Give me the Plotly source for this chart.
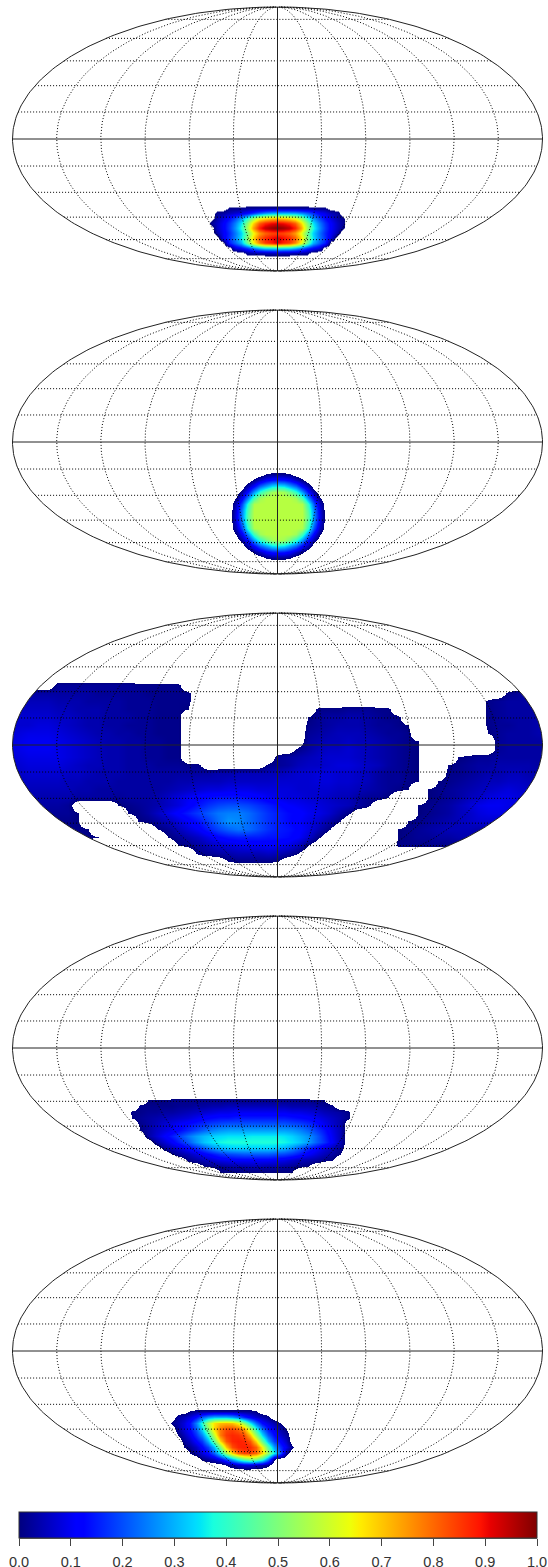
# Five Mollweide sky maps with one shared jet colour bar

import numpy as np
import plotly.graph_objects as go

W = 548
H = 1567
centres_y = [139, 442, 745, 1048, 1351]
centre_x = 277.5
a = 265
b = 132
pad_x = 270.5
pad_y = 137

o = -4  # outside the region, values below are in hundredths

panel1_rows = [
    [o] * 26,
    [o] * 4 + [1, 1, 1, 2, 2, 2, 2, 2, 2, 2, 2, 2, 2, 2, 1, 1, 1],
    [o] * 2 + [2, 3, 5, 7, 9, 12, 17, 22, 26, 29, 30, 30, 30, 29, 26, 22, 17, 12, 9, 5, 3],
    [o] * 2 + [4, 8, 13, 19, 27, 38, 52, 62, 66, 69, 70, 69, 66, 62, 52, 38, 27, 19, 13, 8, 4, 1],
    [o] * 1 + [2, 6, 11, 17, 25, 35, 51, 68, 81, 87, 90, 92, 90, 87, 81, 68, 51, 35, 25, 17, 11, 6, 2],
    [o] * 2 + [6, 11, 18, 27, 38, 55, 74, 88, 95, 98, 100, 98, 95, 88, 74, 55, 38, 27, 18, 11, 6, 1],
    [o] * 2 + [4, 10, 16, 24, 33, 47, 63, 74, 80, 83, 84, 83, 80, 74, 63, 47, 33, 24, 16, 10, 4],
    [o] * 3 + [10, 17, 25, 35, 51, 68, 81, 87, 90, 93, 90, 87, 81, 68, 51, 35, 25, 17, 8],
    [o] * 4 + [15, 22, 30, 47, 64, 77, 85, 88, 92, 88, 85, 77, 64, 47, 30, 22, 15],
    [o] * 5 + [8, 12, 17, 24, 30, 34, 35, 36, 35, 34, 30, 24, 17, 12, 8],
    [o] * 7 + [2, 3, 3, 4, 4, 5, 4, 4, 3, 3, 2],
    [o] * 26,
]

panel2_rows = [
    [o] * 19,
    [o] * 7 + [0, 1, 1, 1, 0],
    [o] * 5 + [1, 6, 11, 14, 15, 14, 11, 6, 1],
    [o] * 4 + [4, 12, 22, 28, 34, 36, 34, 28, 22, 12, 4],
    [o] * 3 + [3, 14, 28, 40, 48, 54, 56, 54, 48, 40, 28, 14, 3],
    [o] * 2 + [0, 11, 26, 43, 54, 57, 57, 57, 57, 57, 54, 43, 26, 11, 0],
    [o] * 2 + [5, 20, 40, 56, 57, 57, 57, 57, 57, 57, 57, 56, 40, 20, 5],
    [o] * 2 + [8, 25, 44, 57, 57, 57, 57, 57, 57, 57, 57, 57, 44, 25, 8],
    [o] * 2 + [9, 26, 46, 57, 57, 57, 57, 57, 57, 57, 57, 57, 46, 26, 9],
    [o] * 2 + [8, 25, 44, 57, 57, 57, 57, 57, 57, 57, 57, 57, 44, 25, 8],
    [o] * 2 + [5, 20, 40, 56, 57, 57, 57, 57, 57, 57, 57, 56, 40, 20, 5],
    [o] * 2 + [0, 11, 26, 43, 54, 57, 57, 57, 57, 57, 54, 43, 26, 11, 0],
    [o] * 3 + [3, 14, 28, 40, 48, 54, 56, 54, 48, 40, 28, 14, 3],
    [o] * 4 + [4, 12, 22, 28, 34, 36, 34, 28, 22, 12, 4],
    [o] * 5 + [1, 6, 11, 14, 15, 14, 11, 6, 1],
    [o] * 7 + [0, 1, 1, 1, 0],
    [o] * 19,
]

panel3_rows = [
    [o] * 55,
    [o] * 5 + [2, 2, 2, 2, 2, 2, 2, 2, 1, 1, 1, 1, 1],
    [o] * 2 + [3, 3, 3, 3, 3, 3, 3, 2, 2, 2, 2, 2, 1, 1, 1, 1, 1] + [o] * 31 + [1, 2, 3],
    [o] * 1 + [4, 5, 5, 5, 4, 4, 4, 3, 3, 3, 3, 2, 2, 2, 1, 1, 1, 1] + [o] * 29 + [1, 2, 3, 3, 3, 3],
    [5, 6, 6, 6, 6, 5, 5, 4, 4, 4, 3, 3, 2, 2, 2, 1, 1, 1, 0] + [o] * 12 + [1, 1, 1, 2, 2, 2, 1, 1] + [o] * 9 + [1, 2, 3, 3, 3, 3, 3],
    [6, 7, 7, 7, 7, 6, 6, 5, 4, 4, 3, 3, 3, 2, 2, 1, 1, 1] + [o] * 12 + [0, 2, 3, 3, 4, 4, 3, 2, 1, 1] + [o] * 8 + [1, 2, 3, 3, 3, 4, 4],
    [6, 7, 7, 8, 8, 7, 6, 5, 4, 4, 3, 3, 2, 2, 2, 1, 1, 1] + [o] * 12 + [1, 2, 3, 4, 4, 4, 3, 2, 2, 1, 0] + [o] * 7 + [1, 2, 2, 3, 3, 4, 4],
    [7, 8, 9, 9, 9, 8, 7, 6, 5, 4, 4, 3, 3, 2, 2, 1, 1, 1] + [o] * 12 + [2, 3, 4, 5, 5, 5, 4, 3, 2, 2, 1] + [o] * 7 + [0, 2, 3, 3, 3, 4, 4],
    [8, 9, 10, 10, 10, 9, 8, 7, 6, 5, 4, 4, 3, 3, 2, 2, 1, 1] + [o] * 12 + [3, 4, 5, 5, 6, 5, 5, 4, 3, 2, 1, 0] + [o] * 7 + [2, 3, 3, 3, 3, 4],
    [8, 9, 10, 10, 10, 9, 8, 7, 6, 5, 4, 4, 3, 3, 2, 2, 1, 1] + [o] * 11 + [1, 3, 5, 6, 6, 7, 6, 5, 4, 3, 2, 1, 0] + [o] * 7 + [2, 3, 3, 3, 3, 3],
    [7, 8, 9, 9, 9, 9, 8, 7, 6, 5, 4, 4, 3, 3, 2, 2, 1, 1] + [o] * 9 + [2, 3, 4, 5, 6, 7, 7, 7, 6, 5, 4, 3, 2, 1, 0] + [o] * 3 + [0, 1, 2, 2, 3, 3, 3, 3, 3, 3],
    [6, 7, 8, 8, 8, 8, 7, 6, 5, 5, 4, 4, 3, 3, 3, 2, 2, 2, 1, 1] + [o] * 6 + [1, 2, 3, 5, 6, 6, 7, 8, 8, 7, 6, 5, 3, 2, 1, 0] + [o] * 2 + [0, 1, 2, 3, 3, 4, 4, 4, 4, 3, 3],
    [5, 6, 7, 7, 7, 7, 6, 6, 5, 4, 4, 4, 3, 3, 3, 3, 3, 3, 3, 3, 3, 4, 4, 5, 5, 5, 5, 5, 6, 7, 7, 8, 8, 7, 7, 6, 5, 3, 2, 2, 1, 0] + [o] * 2 + [1, 1, 2, 3, 4, 4, 5, 5, 4, 4, 3],
    [4, 5, 6, 6, 6, 6, 5, 5, 4, 4, 4, 3, 3, 3, 3, 3, 3, 4, 4, 5, 5, 5, 6, 6, 6, 6, 6, 7, 7, 7, 7, 8, 8, 7, 7, 6, 5, 3, 2, 2, 1, 0] + [o] * 1 + [0, 1, 2, 3, 4, 5, 5, 6, 6, 5, 4, 4],
    [4, 4, 5, 5, 5, 5, 5, 4, 4, 3, 3, 3, 3, 3, 3, 3, 4, 5, 6, 7, 8, 8, 9, 9, 9, 8, 8, 8, 8, 7, 7, 7, 7, 6, 6, 5, 4, 3, 2, 1, 0] + [o] * 1 + [0, 1, 2, 3, 4, 5, 6, 7, 8, 7, 6, 5, 4],
    [3, 3, 4, 4, 4, 4, 4, 3, 3, 3, 3, 2, 3, 3, 3, 4, 6, 8, 10, 12, 13, 14, 14, 14, 13, 12, 10, 9, 8, 8, 7, 7, 6, 5, 5, 3, 2, 2, 0] + [o] * 3 + [0, 1, 2, 3, 5, 6, 8, 9, 9, 8, 7, 6, 5],
    [3, 3, 3, 3, 3, 3, 2] + [o] * 4 + [0, 1, 2, 3, 4, 6, 8, 11, 14, 17, 19, 20, 20, 19, 17, 15, 13, 11, 10, 9, 8, 7, 6, 5, 3, 1] + [o] * 4 + [0, 1, 2, 3, 5, 7, 9, 10, 10, 9, 8, 7, 5, 4],
    [2, 2, 2, 2, 2, 2, 2, 0] + [o] * 4 + [0, 1, 3, 6, 9, 12, 15, 18, 21, 24, 25, 25, 23, 20, 17, 15, 13, 12, 10, 9, 7, 4, 1] + [o] * 6 + [0, 1, 2, 3, 5, 6, 8, 9, 9, 8, 6, 5, 4, 3],
    [1, 1, 1, 1, 1, 1, 1, 0] + [o] * 5 + [0, 1, 3, 5, 8, 11, 14, 18, 23, 27, 26, 23, 20, 17, 15, 13, 11, 9, 7, 4, 1] + [o] * 6 + [0, 1, 2, 3, 4, 5, 6, 7, 7, 6, 5, 4, 3, 2, 2],
    [1, 1, 1, 1, 1, 1, 1, 1, 0] + [o] * 6 + [0, 2, 5, 8, 11, 15, 19, 22, 24, 23, 20, 17, 15, 14, 12, 9, 5, 1] + [o] * 6 + [0, 1, 2, 3, 4, 5, 5, 5, 4, 4, 3, 3, 2, 2, 2, 2],
    [1, 1, 1, 1, 1, 1, 1, 1, 1, 0] + [o] * 6 + [0, 2, 4, 6, 9, 12, 14, 15, 15, 15, 14, 14, 13, 11, 7, 1] + [o] * 7 + [0, 1, 2, 2, 3, 3, 4, 4, 3, 3, 2, 2, 2, 2, 2, 2],
    [o] * 17 + [0, 1, 3, 5, 7, 8, 9, 10, 10, 11, 10, 9, 6, 0] + [o] * 8 + [1, 1, 1, 1, 1, 1, 1, 1],
    [o] * 19 + [1, 2, 3, 4, 5, 5, 5, 6, 5, 3, 0],
    [o] * 22 + [0, 1, 1, 1, 1, 0],
    [o] * 55,
]

panel4_rows = [
    [o] * 30,
    [o] * 3 + [0, 0, 0, 1, 1, 1, 1, 1, 1, 1, 1, 1, 1, 1, 1, 1, 1, 1, 1, 1, 1, 0, 0],
    [o] * 2 + [1, 1, 1, 1, 1, 2, 2, 3, 3, 4, 4, 5, 5, 5, 5, 5, 5, 5, 5, 4, 4, 4, 3, 2, 1],
    [o] * 1 + [1, 1, 2, 2, 3, 3, 4, 5, 6, 7, 8, 9, 9, 10, 10, 10, 10, 10, 10, 10, 9, 9, 8, 7, 5, 4, 3, 1],
    [o] * 1 + [0, 2, 3, 4, 5, 6, 7, 8, 10, 12, 13, 14, 14, 15, 15, 15, 15, 15, 15, 15, 14, 13, 12, 10, 8, 6, 4, 1],
    [o] * 2 + [1, 3, 5, 7, 9, 11, 13, 15, 17, 19, 20, 21, 21, 21, 21, 21, 21, 21, 21, 20, 19, 17, 14, 10, 7, 4],
    [o] * 2 + [0, 3, 6, 8, 10, 13, 16, 19, 22, 25, 27, 28, 28, 28, 28, 28, 28, 28, 28, 27, 25, 22, 18, 14, 9, 5],
    [o] * 3 + [3, 7, 11, 15, 19, 24, 28, 31, 33, 34, 35, 35, 35, 36, 36, 36, 36, 35, 33, 30, 27, 22, 16, 10, 5],
    [o] * 4 + [3, 7, 11, 16, 21, 27, 32, 35, 37, 38, 38, 38, 38, 38, 38, 38, 37, 35, 32, 28, 22, 17, 11, 5],
    [o] * 5 + [2, 5, 8, 12, 16, 21, 26, 30, 32, 33, 33, 33, 33, 33, 32, 30, 26, 21, 16, 12, 8, 5, 2],
    [o] * 6 + [0, 3, 5, 8, 11, 14, 17, 19, 20, 21, 21, 21, 21, 20, 19, 17, 14, 11, 8, 5, 3, 0],
    [o] * 8 + [1, 3, 5, 7, 9, 10, 11, 11, 11, 11, 11, 10, 9, 7, 5, 4, 3, 1, 0],
    [o] * 10 + [0, 1, 2, 3, 4, 4, 5, 5, 4, 4, 3, 2, 1, 0],
    [o] * 12 + [0, 0, 0, 0, 0, 0, 0, 0, 0, 0],
    [o] * 30,
]

panel5_rows = [
    [o] * 23,
    [o] * 4 + [0, 1, 1, 1, 1, 1, 1, 1, 1, 1, 1, 0],
    [o] * 2 + [3, 5, 8, 13, 21, 27, 30, 30, 30, 28, 23, 16, 11, 7, 4, 1],
    [o] * 1 + [1, 4, 8, 14, 25, 39, 56, 67, 71, 72, 71, 65, 52, 36, 23, 13, 8, 4, 0],
    [o] * 2 + [3, 8, 13, 21, 34, 51, 68, 78, 83, 84, 81, 75, 57, 39, 24, 14, 9, 4, 0],
    [o] * 2 + [0, 5, 10, 17, 26, 40, 59, 78, 85, 87, 86, 83, 71, 52, 34, 21, 13, 7, 3],
    [o] * 3 + [2, 6, 12, 18, 30, 47, 68, 82, 87, 88, 87, 82, 68, 47, 30, 18, 12, 6],
    [o] * 3 + [0, 2, 6, 12, 19, 31, 49, 70, 83, 87, 88, 87, 81, 65, 45, 28, 17, 10, 1],
    [o] * 4 + [0, 3, 8, 13, 22, 36, 53, 69, 80, 84, 84, 80, 69, 53, 36, 22, 3],
    [o] * 6 + [1, 3, 6, 12, 20, 30, 40, 48, 52, 50, 42, 25, 1],
    [o] * 10 + [0, 3, 6, 8, 8, 6, 4, 1],
    [o] * 23,
]

# first column, first row and cell size of each grid, in page pixels
grid_specs = [
    (panel1_rows, 205, 203, 6, 5),
    (panel2_rows, 224, 468, 6, 6),
    (panel3_rows, 8, 677, 10, 8),
    (panel4_rows, 124, 1094, 8, 6),
    (panel5_rows, 166, 1405, 6, 6),
]

jet_stops = [
    (0.0, (0, 0, 127)),
    (0.11, (0, 0, 255)),
    (0.125, (0, 0, 255)),
    (0.34, (0, 219, 255)),
    (0.35, (0, 230, 247)),
    (0.375, (25, 255, 222)),
    (0.64, (239, 255, 8)),
    (0.66, (255, 236, 0)),
    (0.89, (255, 19, 0)),
    (0.91, (232, 0, 0)),
    (1.0, (127, 0, 0)),
]
bar_ticks = [0.0, 0.1, 0.2, 0.3, 0.4, 0.5, 0.6, 0.7, 0.8, 0.9, 1.0]

parallels = [-75, -60, -45, -30, -15, 15, 30, 45, 60, 75]
meridians = [-150, -120, -90, -60, -30, 30, 60, 90, 120, 150]


def rgb(c):
    return "rgb(%d,%d,%d)" % c


jet = [[p, rgb(c)] for p, c in jet_stops]

# below zero is white, so the region edge follows the smoothed zero line
z_low = -0.05
heat_scale = [[0, "white"], [(0 - z_low) / (1 - z_low) - 0.0001, "white"]]
for p, c in jet_stops:
    heat_scale.append([(p - z_low) / (1 - z_low), rgb(c)])


def theta_of(lat_deg):
    phi = np.radians(lat_deg)
    th = phi.copy()
    for _ in range(60):
        d = 2 * th + np.sin(2 * th) - np.pi * np.sin(phi)
        th = th - d / (2 + 2 * np.cos(2 * th) + 1e-9)
    return th


def graticule():
    xs = []
    ys = []
    lat = np.linspace(-89.9, 89.9, 181)
    th = theta_of(lat)
    for lon in meridians:
        xs += list(a * lon / 180 * np.cos(th)) + [None]
        ys += list(-b * np.sin(th)) + [None]
    for p in parallels:
        t = theta_of(np.array([float(p)]))[0]
        half = a * np.cos(t)
        xs += [-half, half, None]
        ys += [-b * np.sin(t), -b * np.sin(t), None]
    return xs, ys


grid_x, grid_y = graticule()
t = np.linspace(0, 2 * np.pi, 361)
frame_x = a * np.cos(t)
frame_y = b * np.sin(t)
# white outside the ellipse: outer box one way round, ellipse the other
box_x = pad_x + 8
box_y = pad_y + 8
mask_x = [box_x, box_x, -box_x, -box_x, box_x, box_x] + list(frame_x[::-1]) + [box_x]
mask_y = [0, box_y, box_y, -box_y, -box_y, 0] + list(frame_y[::-1]) + [0]

fig = go.Figure()
layout_axes = {}

for n, (rows, x_first, y_first, dx, dy) in enumerate(grid_specs):
    cy = centres_y[n]
    xa = "x" if n == 0 else "x%d" % (n + 1)
    ya = "y" if n == 0 else "y%d" % (n + 1)
    ncols = max(len(r) for r in rows)
    z = np.array([r + [o] * (ncols - len(r)) for r in rows]) / 100

    fig.add_trace(
        go.Heatmap(
            z=z,
            x0=x_first - centre_x,
            dx=dx,
            y0=y_first - cy,
            dy=dy,
            zmin=z_low,
            zmax=1,
            zsmooth="best",
            colorscale=heat_scale,
            showscale=False,
            hoverinfo="skip",
            xaxis=xa,
            yaxis=ya,
        )
    )
    fig.add_trace(
        go.Scatter(
            x=mask_x,
            y=mask_y,
            mode="lines",
            fill="toself",
            fillcolor="white",
            line={"width": 0},
            hoverinfo="skip",
            xaxis=xa,
            yaxis=ya,
        )
    )
    fig.add_trace(
        go.Scatter(
            x=grid_x,
            y=grid_y,
            mode="lines",
            line={"color": "black", "width": 1, "dash": "1px,2px"},
            hoverinfo="skip",
            xaxis=xa,
            yaxis=ya,
        )
    )
    fig.add_trace(
        go.Scatter(
            x=list(frame_x) + [None, -a, a, None, 0, 0],
            y=list(frame_y) + [None, 0, 0, None, -b, b],
            mode="lines",
            line={"color": "#222222", "width": 1},
            hoverinfo="skip",
            xaxis=xa,
            yaxis=ya,
        )
    )

    name = str(n + 1) if n else ""
    layout_axes["xaxis" + name] = {
        "domain": [(centre_x - pad_x) / W, (centre_x + pad_x) / W],
        "range": [-pad_x, pad_x],
        "visible": False,
        "anchor": ya,
    }
    layout_axes["yaxis" + name] = {
        "domain": [1 - (cy + pad_y) / H, 1 - (cy - pad_y) / H],
        "range": [pad_y, -pad_y],
        "visible": False,
        "anchor": xa,
    }

# shared colour bar, its ticks come from an axis laid along its lower edge
fig.add_trace(
    go.Scatter(
        x=bar_ticks,
        y=[0] * len(bar_ticks),
        mode="markers",
        hoverinfo="skip",
        xaxis="x6",
        yaxis="y6",
        marker={
            "size": 1,
            "opacity": 0,
            "color": bar_ticks,
            "cmin": 0,
            "cmax": 1,
            "colorscale": jet,
            "showscale": True,
            "colorbar": {
                "orientation": "h",
                "x": 278 / W,
                "xanchor": "center",
                "y": 1 - 1512 / H,
                "yanchor": "top",
                "len": 518 / W,
                "lenmode": "fraction",
                "thickness": 26,
                "xpad": 0,
                "ypad": 0,
                "outlinewidth": 1,
                "outlinecolor": "#333333",
                "tickmode": "array",
                "tickvals": [],
                "ticks": "",
            },
        },
    )
)
layout_axes["xaxis6"] = {
    "domain": [19 / W, 537 / W],
    "range": [0, 1],
    "anchor": "y6",
    "tickmode": "array",
    "tickvals": bar_ticks,
    "ticktext": ["%.1f" % v for v in bar_ticks],
    "ticks": "outside",
    "ticklen": 7,
    "tickwidth": 1,
    "tickcolor": "#444444",
    "showgrid": False,
    "zeroline": False,
    "showline": True,
    "linecolor": "#666666",
    "ticklabelstandoff": 4,
    "tickfont": {"family": "Liberation Sans", "size": 14.5, "color": "#333333"},
}
layout_axes["yaxis6"] = {
    "domain": [1 - 1538 / H, 1 - 1512 / H],
    "range": [-1, 1],
    "visible": False,
    "anchor": "x6",
}

fig.update_layout(
    width=W,
    height=H,
    margin={"l": 0, "r": 0, "t": 0, "b": 0, "autoexpand": False},
    paper_bgcolor="white",
    plot_bgcolor="rgba(0,0,0,0)",
    showlegend=False,
    **layout_axes,
)

fig.write_html(
    "out.html",
    config={"displayModeBar": False},
    post_script="document.body.style.margin = '0';",
)
